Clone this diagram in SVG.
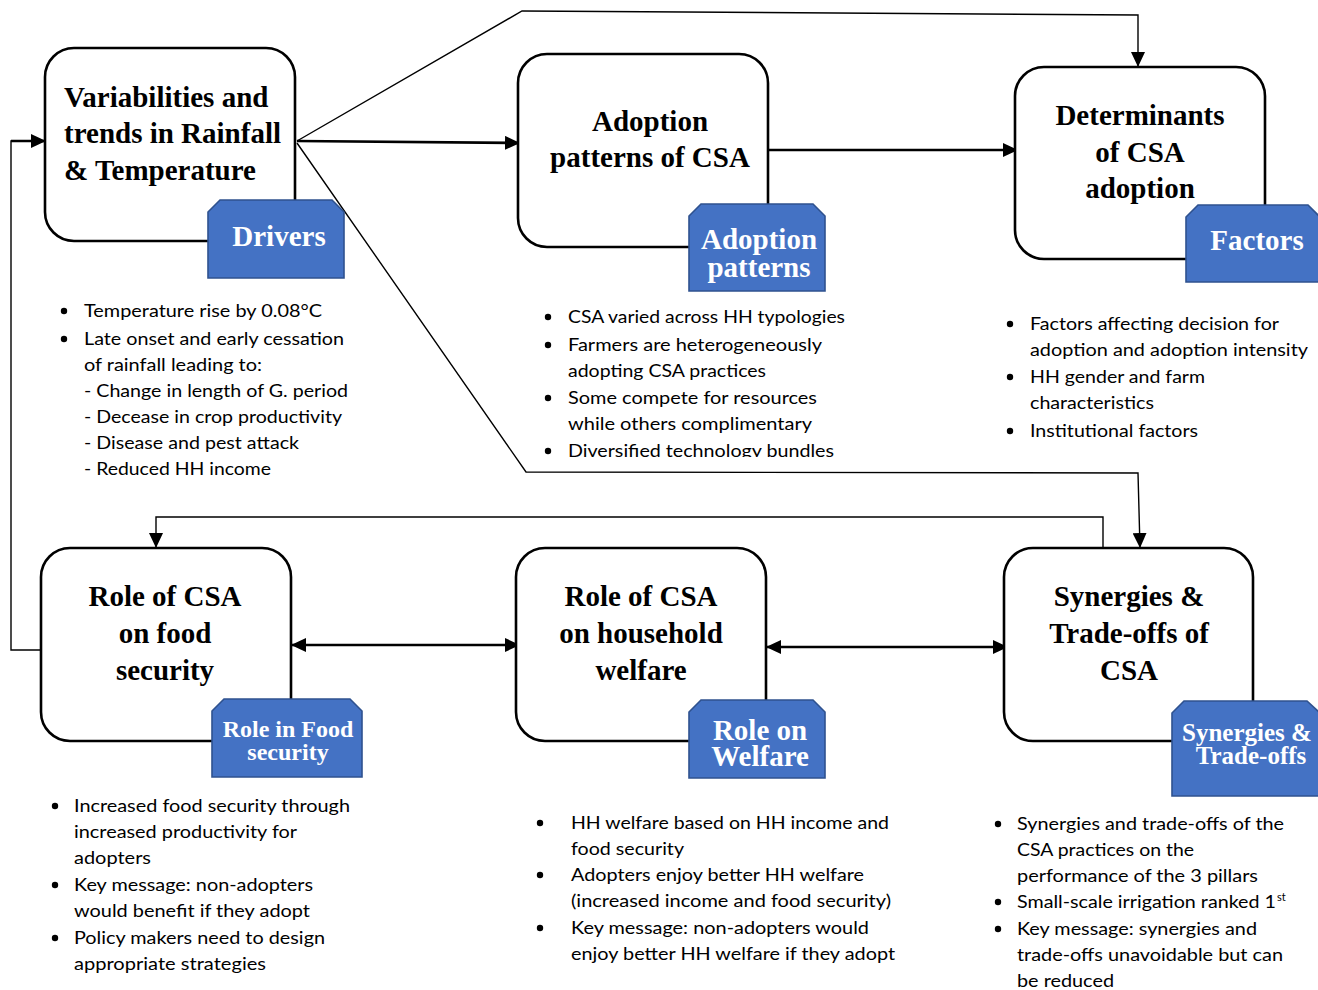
<svg xmlns="http://www.w3.org/2000/svg" width="1318" height="990" viewBox="0 0 1318 990">
<style>
.box{fill:#fff;stroke:#000;stroke-width:2.6}
.h{font-family:"Liberation Serif","Times New Roman",serif;font-weight:bold;font-size:29px;fill:#000}
.tag{fill:#4472C4;stroke:#2F528F;stroke-width:1.6}
.tt{font-family:"Liberation Serif","Times New Roman",serif;font-weight:bold;font-size:29px;fill:#fff;text-anchor:middle}
.t{font-family:Lato,"Open Sans",sans-serif;font-size:17.5px;fill:#000}
.thin{fill:none;stroke:#000;stroke-width:1.4}
.thick{fill:none;stroke:#000;stroke-width:2.6}
.c{text-anchor:middle}
</style>
<defs>
<marker id="arr" markerUnits="userSpaceOnUse" markerWidth="16" markerHeight="14" refX="15" refY="7" orient="auto-start-reverse">
<path d="M0,0 L15,7 L0,14 z" fill="#000"/>
</marker>
<clipPath id="clipD"><rect x="530" y="436" width="340" height="21"/></clipPath>
</defs>

<g id="connectors">
<path class="thick" d="M297,141 L520,143" marker-end="url(#arr)"/>
<path class="thick" d="M768,150 L1018,150" marker-end="url(#arr)"/>
<path class="thin" d="M297,141 L522,11 L1138,15 L1138,67" marker-end="url(#arr)"/>
<path class="thin" d="M297,143 L526,472 L1138,473 L1140,548" marker-end="url(#arr)"/>
<path class="thin" d="M1103,548 L1103,517 L156,517 L156,548" marker-end="url(#arr)"/>
<path class="thin" d="M41,650 L11,650 L11,141 L20,141"/>
<path class="thick" d="M11,141 L46,141" marker-end="url(#arr)"/>
<path class="thick" d="M291,645 L520,645" marker-start="url(#arr)" marker-end="url(#arr)"/>
<path class="thick" d="M766,647 L1008,647" marker-start="url(#arr)" marker-end="url(#arr)"/>
</g>

<g id="node-drivers">
<rect class="box" x="45" y="48" width="250" height="193" rx="29"/>
<text class="h" x="64" y="107">Variabilities and</text>
<text class="h" x="64" y="143">trends in Rainfall</text>
<text class="h" x="64" y="180">&amp; Temperature</text>
<polygon class="tag" points="208,212 220,200 332,200 344,212 344,278 208,278"/>
<text class="tt" x="279" y="246">Drivers</text>
</g>

<g id="node-adoption">
<rect class="box" x="518" y="54" width="250" height="193" rx="29"/>
<text class="h c" x="650" y="131">Adoption</text>
<text class="h c" x="650" y="167">patterns of CSA</text>
<polygon class="tag" points="689,216 701,204 813,204 825,216 825,291 689,291"/>
<text class="tt" x="759" y="249">Adoption</text>
<text class="tt" x="759" y="277">patterns</text>
</g>

<g id="node-determinants">
<rect class="box" x="1015" y="67" width="250" height="192" rx="29"/>
<text class="h c" x="1140" y="125">Determinants</text>
<text class="h c" x="1140" y="162">of CSA</text>
<text class="h c" x="1140" y="198">adoption</text>
<polygon class="tag" points="1186,217 1198,205 1308,205 1320,217 1320,282 1186,282"/>
<text class="tt" x="1257" y="250">Factors</text>
</g>

<g id="node-food">
<rect class="box" x="41" y="548" width="250" height="193" rx="29"/>
<text class="h c" x="165" y="606">Role of CSA</text>
<text class="h c" x="165" y="643">on food</text>
<text class="h c" x="165" y="680">security</text>
<polygon class="tag" points="212,711 224,699 350,699 362,711 362,777 212,777"/>
<text class="tt" x="288" y="737" style="font-size:24px">Role in Food</text>
<text class="tt" x="288" y="760" style="font-size:24px">security</text>
</g>

<g id="node-welfare">
<rect class="box" x="516" y="548" width="250" height="193" rx="29"/>
<text class="h c" x="641" y="606">Role of CSA</text>
<text class="h c" x="641" y="643">on household</text>
<text class="h c" x="641" y="680">welfare</text>
<polygon class="tag" points="689,712 701,700 813,700 825,712 825,778 689,778"/>
<text class="tt" x="760" y="740">Role on</text>
<text class="tt" x="760" y="766">Welfare</text>
</g>

<g id="node-synergies">
<rect class="box" x="1004" y="548" width="249" height="193" rx="29"/>
<text class="h c" x="1129" y="606">Synergies &amp;</text>
<text class="h c" x="1129" y="643">Trade-offs of</text>
<text class="h c" x="1129" y="680">CSA</text>
<polygon class="tag" points="1172,713 1184,701 1307,701 1320,713 1320,796 1172,796"/>
<text class="tt" x="1247" y="741" style="font-size:25px">Synergies &amp;</text>
<text class="tt" x="1251" y="764" style="font-size:25px">Trade-offs</text>
</g>

<g id="notes-drivers">
<circle cx="64" cy="311" r="3.2"/>
<circle cx="64" cy="339" r="3.2"/>
<text class="t" x="84" y="317" textLength="238" lengthAdjust="spacingAndGlyphs">Temperature rise by 0.08°C</text>
<text class="t" x="84" y="345" textLength="260" lengthAdjust="spacingAndGlyphs">Late onset and early cessation</text>
<text class="t" x="84" y="371" textLength="178" lengthAdjust="spacingAndGlyphs">of rainfall leading to:</text>
<text class="t" x="84" y="397" textLength="264" lengthAdjust="spacingAndGlyphs">- Change in length of G. period</text>
<text class="t" x="84" y="423" textLength="258" lengthAdjust="spacingAndGlyphs">- Decease in crop productivity</text>
<text class="t" x="84" y="449" textLength="215" lengthAdjust="spacingAndGlyphs">- Disease and pest attack</text>
<text class="t" x="84" y="475" textLength="187" lengthAdjust="spacingAndGlyphs">- Reduced HH income</text>
</g>

<g id="notes-adoption">
<circle cx="548" cy="317" r="3.2"/>
<circle cx="548" cy="345" r="3.2"/>
<circle cx="548" cy="398" r="3.2"/>
<circle cx="548" cy="451" r="3.2"/>
<text class="t" x="568" y="323" textLength="277" lengthAdjust="spacingAndGlyphs">CSA varied across HH typologies</text>
<text class="t" x="568" y="351" textLength="254" lengthAdjust="spacingAndGlyphs">Farmers are heterogeneously</text>
<text class="t" x="568" y="377" textLength="198" lengthAdjust="spacingAndGlyphs">adopting CSA practices</text>
<text class="t" x="568" y="404" textLength="249" lengthAdjust="spacingAndGlyphs">Some compete for resources</text>
<text class="t" x="568" y="430" textLength="244" lengthAdjust="spacingAndGlyphs">while others complimentary</text>
<text class="t" x="568" y="457" textLength="266" lengthAdjust="spacingAndGlyphs" clip-path="url(#clipD)">Diversified technology bundles</text>
</g>

<g id="notes-determinants">
<circle cx="1010" cy="324" r="3.2"/>
<circle cx="1010" cy="377" r="3.2"/>
<circle cx="1010" cy="431" r="3.2"/>
<text class="t" x="1030" y="330" textLength="249" lengthAdjust="spacingAndGlyphs">Factors affecting decision for</text>
<text class="t" x="1030" y="356" textLength="278" lengthAdjust="spacingAndGlyphs">adoption and adoption intensity</text>
<text class="t" x="1030" y="383" textLength="175" lengthAdjust="spacingAndGlyphs">HH gender and farm</text>
<text class="t" x="1030" y="409" textLength="124" lengthAdjust="spacingAndGlyphs">characteristics</text>
<text class="t" x="1030" y="437" textLength="168" lengthAdjust="spacingAndGlyphs">Institutional factors</text>
</g>

<g id="notes-food">
<circle cx="55" cy="806" r="3.2"/>
<circle cx="55" cy="885" r="3.2"/>
<circle cx="55" cy="938" r="3.2"/>
<text class="t" x="74" y="812" textLength="276" lengthAdjust="spacingAndGlyphs">Increased food security through</text>
<text class="t" x="74" y="838" textLength="223" lengthAdjust="spacingAndGlyphs">increased productivity for</text>
<text class="t" x="74" y="864" textLength="77" lengthAdjust="spacingAndGlyphs">adopters</text>
<text class="t" x="74" y="891" textLength="239" lengthAdjust="spacingAndGlyphs">Key message: non-adopters</text>
<text class="t" x="74" y="917" textLength="236" lengthAdjust="spacingAndGlyphs">would benefit if they adopt</text>
<text class="t" x="74" y="944" textLength="251" lengthAdjust="spacingAndGlyphs">Policy makers need to design</text>
<text class="t" x="74" y="970" textLength="192" lengthAdjust="spacingAndGlyphs">appropriate strategies</text>
</g>

<g id="notes-welfare">
<circle cx="540" cy="823" r="3.2"/>
<circle cx="540" cy="875" r="3.2"/>
<circle cx="540" cy="928" r="3.2"/>
<text class="t" x="571" y="829" textLength="318" lengthAdjust="spacingAndGlyphs">HH welfare based on HH income and</text>
<text class="t" x="571" y="855" textLength="113" lengthAdjust="spacingAndGlyphs">food security</text>
<text class="t" x="571" y="881" textLength="293" lengthAdjust="spacingAndGlyphs">Adopters enjoy better HH welfare</text>
<text class="t" x="571" y="907" textLength="320" lengthAdjust="spacingAndGlyphs">(increased income and food security)</text>
<text class="t" x="571" y="934" textLength="298" lengthAdjust="spacingAndGlyphs">Key message: non-adopters would</text>
<text class="t" x="571" y="960" textLength="324" lengthAdjust="spacingAndGlyphs">enjoy better HH welfare if they adopt</text>
</g>

<g id="notes-synergies">
<circle cx="998" cy="824" r="3.2"/>
<circle cx="998" cy="902" r="3.2"/>
<circle cx="998" cy="929" r="3.2"/>
<text class="t" x="1017" y="830" textLength="267" lengthAdjust="spacingAndGlyphs">Synergies and trade-offs of the</text>
<text class="t" x="1017" y="856" textLength="177" lengthAdjust="spacingAndGlyphs">CSA practices on the</text>
<text class="t" x="1017" y="882" textLength="241" lengthAdjust="spacingAndGlyphs">performance of the 3 pillars</text>
<text class="t" x="1017" y="908" textLength="259" lengthAdjust="spacingAndGlyphs">Small-scale irrigation ranked 1</text>
<text class="t" x="1277" y="901" style="font-size:11px">st</text>
<text class="t" x="1017" y="935" textLength="240" lengthAdjust="spacingAndGlyphs">Key message: synergies and</text>
<text class="t" x="1017" y="961" textLength="266" lengthAdjust="spacingAndGlyphs">trade-offs unavoidable but can</text>
<text class="t" x="1017" y="987" textLength="97" lengthAdjust="spacingAndGlyphs">be reduced</text>
</g>
</svg>
